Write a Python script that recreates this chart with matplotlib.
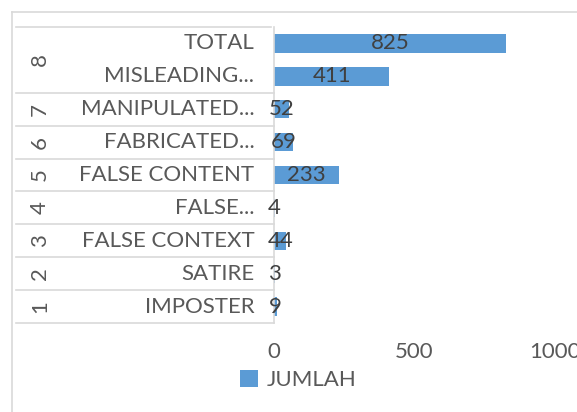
import matplotlib
matplotlib.use("Agg")
import matplotlib.pyplot as plt
from matplotlib.lines import Line2D

plt.rcParams['font.family'] = ['Lato', 'DejaVu Sans']

# data, bottom row first
categories = ['IMPOSTER', 'SATIRE', 'FALSE CONTEXT', 'FALSE...', 'FALSE CONTENT',
              'FABRICATED...', 'MANIPULATED...', 'MISLEADING...', 'TOTAL']
groups = ['1', '2', '3', '4', '5', '6', '7', '8', '8']
jumlah = [9, 3, 44, 4, 233, 69, 52, 411, 825]
x_ticks = [0, 500, 1000]

W, H = 577, 412
fig = plt.figure(figsize=(W / 100, H / 100), dpi=100)

# plot area in pixels: x 274..555, y 27..323 (from top)
ax = fig.add_axes([274 / W, (H - 323) / H, 281 / W, 296 / H])

blue = '#5B9BD5'
grey_txt = '#595959'
line_col = '#D9D9D9'
fs = 16

ypos = list(range(len(categories)))
bars = ax.barh(ypos, jumlah, height=0.56, color=blue)
ax.bar_label(bars, labels=[str(v) for v in jumlah], label_type='center',
             color='#404040', fontsize=fs)

ax.set_xlim(0, 1000)
ax.set_ylim(-0.5, len(categories) - 0.5)
ax.set_xticks(x_ticks)
ax.set_xticklabels([str(t) for t in x_ticks], color=grey_txt, fontsize=fs)
ax.tick_params(axis='x', length=0, pad=14)
ax.set_yticks([])

for s in ['top', 'right', 'bottom']:
    ax.spines[s].set_visible(False)
ax.spines['left'].set_color(line_col)
ax.spines['left'].set_linewidth(1.2)

tr = ax.get_yaxis_transform()
# category labels
for y, c in zip(ypos, categories):
    ax.text(-0.07, y, c, transform=tr, ha='right', va='center',
            color=grey_txt, fontsize=fs, clip_on=False)

# group numbers (rotated) and separators
seen = {}
for y, g in zip(ypos, groups):
    seen.setdefault(g, []).append(y)
for g, ys in seen.items():
    ax.text(-0.833, sum(ys) / len(ys), g, transform=tr, ha='center', va='center',
            rotation=90, color=grey_txt, fontsize=fs, clip_on=False)
    ax.plot([-0.918, 0], [min(ys) - 0.5] * 2, transform=tr, color=line_col,
            lw=1.2, clip_on=False)
ax.plot([-0.918, -0.01], [len(categories) - 0.5] * 2, transform=tr, color=line_col,
        lw=1.2, clip_on=False)

# outer chart border
fig.add_artist(Line2D([12 / W, 12 / W], [0, (H - 12) / H], color=line_col, lw=1.2))
fig.add_artist(Line2D([12 / W, 1], [(H - 12) / H] * 2, color=line_col, lw=1.2))

# legend
leg = fig.legend([bars[0]], ['JUMLAH'], loc='center left',
                 bbox_to_anchor=(240 / W, (H - 380) / H), frameon=False,
                 handlelength=0.8, handleheight=0.8, handletextpad=0.4,
                 borderpad=0, borderaxespad=0, fontsize=fs)
for t in leg.get_texts():
    t.set_color(grey_txt)

fig.savefig('out.png', dpi=100)
